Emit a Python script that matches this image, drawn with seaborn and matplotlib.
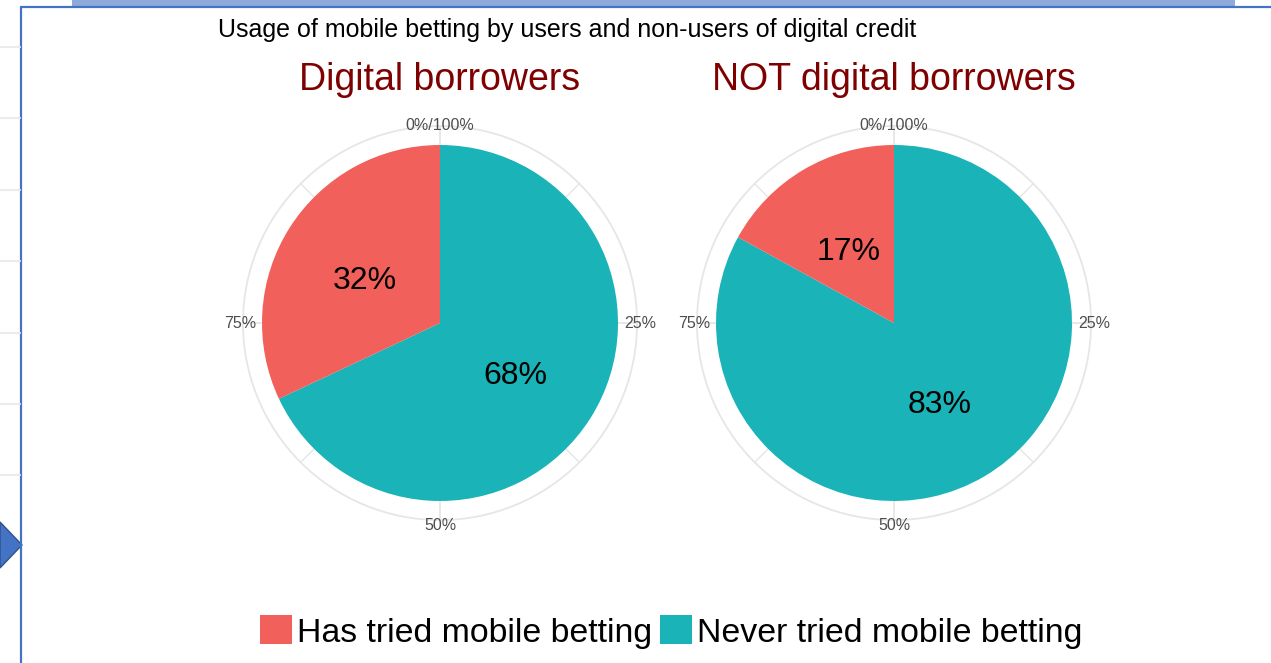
import numpy as np
import matplotlib.pyplot as plt
import seaborn as sns
from matplotlib.patches import Patch, Rectangle, Polygon, Circle
from matplotlib.lines import Line2D

# data
groups = ["Digital borrowers", "NOT digital borrowers"]
categories = ["Has tried mobile betting", "Never tried mobile betting"]
tried = [32, 17]
never = [68, 83]
tick_labels = ["0%/100%", "25%", "50%", "75%"]
title = "Usage of mobile betting by users and non-users of digital credit"

sns.set_theme(style="white")
plt.rcParams["font.family"] = ["Liberation Sans", "DejaVu Sans"]
plt.rcParams["text.color"] = "black"
colors = sns.color_palette(["#F2605B", "#1AB3B7"])

W, H = 1271, 663
fig = plt.figure(figsize=(W / 100, H / 100), dpi=100)


def fx(x):
    return x / W


def fy(y):
    return 1 - y / H


# slide decoration around the chart
fig.add_artist(Rectangle((fx(72), fy(7)), fx(1235) - fx(72), 7 / H,
                         transform=fig.transFigure, fc="#8EAADB", ec="none"))
fig.add_artist(Line2D([fx(21), 1], [fy(7), fy(7)], transform=fig.transFigure,
                      color="#4472C4", lw=1.6))
fig.add_artist(Line2D([fx(21), fx(21)], [fy(7), 0], transform=fig.transFigure,
                      color="#4472C4", lw=1.6))
for yy in [47, 118, 190, 261, 333, 404, 475]:
    fig.add_artist(Line2D([0, fx(20)], [fy(yy), fy(yy)], transform=fig.transFigure,
                          color="#EBEBEB", lw=1.5))
fig.add_artist(Polygon([(0, fy(522)), (fx(22), fy(545)), (0, fy(568))],
                       transform=fig.transFigure, fc="#4472C4", ec="#2F528F", lw=1))

fig.text(fx(218), fy(30), title, fontsize=18, ha="left", va="center", color="black")

centers = [(440, 323), (894, 323)]
R = 178
lim = 1.3
r_out = 1.107
grid_col = "#E6E6E6"

for i, (g, (cx, cy)) in enumerate(zip(groups, centers)):
    size = 2 * lim * R
    ax = fig.add_axes([fx(cx - size / 2), fy(cy + size / 2), size / W, size / H])
    ax.set_axis_off()

    # polar grid (ggplot style)
    ax.add_patch(Circle((0, 0), r_out, fill=False, ec=grid_col, lw=1.3, zorder=0))
    for k in range(8):
        a = np.deg2rad(90 - k * 45)
        ax.plot([0, r_out * np.cos(a)], [0, r_out * np.sin(a)], color=grid_col,
                lw=1.3 if k % 2 == 0 else 1.0, zorder=0)
    for k, lab in enumerate(tick_labels):
        a = np.deg2rad(90 - k * 90)
        rr = 1.11 if k == 0 else (1.14 if k == 2 else 1.125)
        ax.text(rr * np.cos(a), rr * np.sin(a), lab, ha="center", va="center",
                fontsize=11.5, color="#4D4D4D", zorder=3)

    wedges, texts, autotexts = ax.pie(
        [never[i], tried[i]], colors=[colors[1], colors[0]],
        startangle=90, counterclock=False, radius=1,
        autopct="%.0f%%", pctdistance=0.5,
        textprops=dict(fontsize=23, color="black"),
        wedgeprops=dict(linewidth=0),
    )
    for w in wedges:
        w.set_zorder(2)
    for t in autotexts:
        x, y = t.get_position()
        t.set_position((x, y - 0.03))
    ax.set_xlim(-lim, lim)
    ax.set_ylim(-lim, lim)
    ax.set_aspect("equal")

    fig.text(fx(cx), fy(80), g, fontsize=27, color="#7F0000", ha="center", va="center")

handles = [Patch(facecolor=colors[0], edgecolor="none"),
           Patch(facecolor=colors[1], edgecolor="none")]
leg = fig.legend(handles, categories, loc="center", bbox_to_anchor=(fx(671), fy(632)),
                 ncol=2, frameon=False, fontsize=24.4, handlelength=0.94, handleheight=0.94,
                 handletextpad=0.15, columnspacing=0.24, borderpad=0, borderaxespad=0)
for t in leg.get_texts():
    t.set_color("black")

fig.savefig("out.png", dpi=100)
